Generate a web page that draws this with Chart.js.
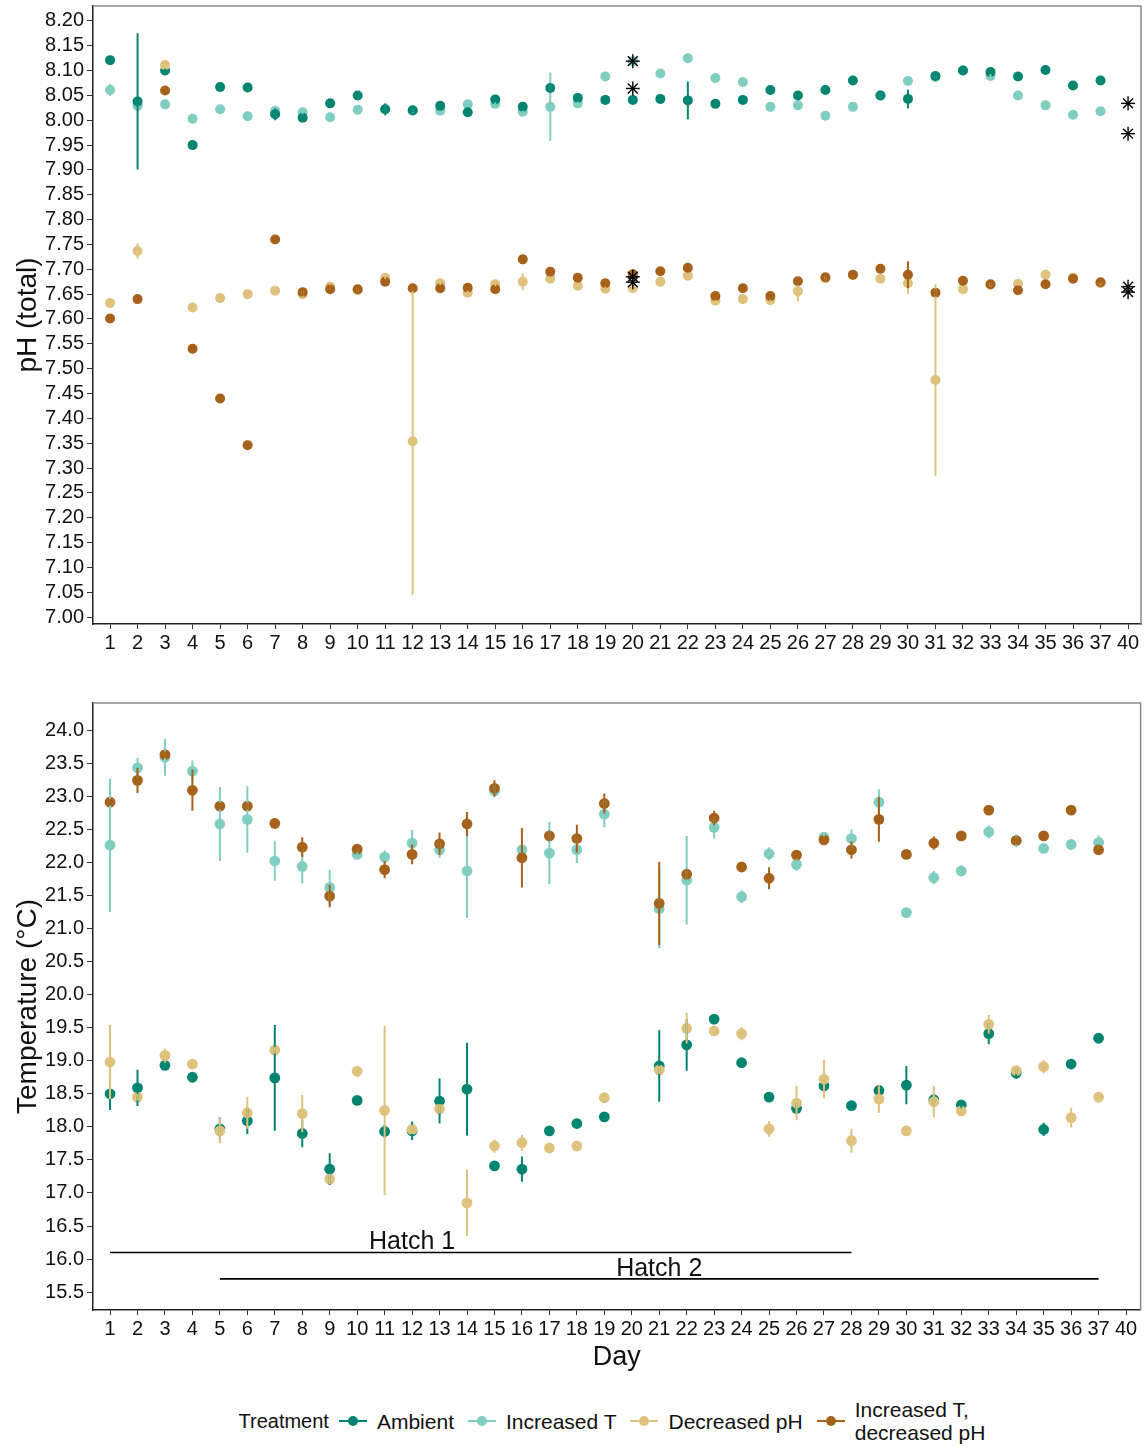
<!DOCTYPE html>
<html><head><meta charset="utf-8">
<script src="https://cdn.jsdelivr.net/npm/chart.js@4.4.1/dist/chart.umd.min.js"></script>
<style>
html,body{margin:0;padding:0;background:#fff;}
body{width:1146px;height:1447px;position:relative;overflow:hidden;font-family:"Liberation Sans",Arial,sans-serif;color:#111;}
#c1{position:absolute;left:0;top:0;}
#c2{position:absolute;left:0;top:690px;}
#legend{position:absolute;left:93px;width:1052px;top:1397px;height:48px;display:flex;justify-content:center;align-items:center;font-size:21px;line-height:23px;}
#legend .ttl{font-size:20px;margin-right:10px;}
#legend .sym{position:relative;width:28px;height:20px;margin-right:10px;}
#legend .sym .ln{position:absolute;left:0;right:0;top:9px;height:2px;}
#legend .sym .dt{position:absolute;left:9px;top:5px;width:10px;height:10px;border-radius:50%;}
#legend .lab{margin-right:14px;white-space:pre;}
</style>
</head><body>
<canvas id="c1" width="1146" height="660"></canvas>
<canvas id="c2" width="1146" height="690"></canvas>
<div id="legend"></div>
<script>
// ---------------- data ----------------
const days = ['1','2','3','4','5','6','7','8','9','10','11','12','13','14','15','16','17','18','19','20','21','22','23','24','25','26','27','28','29','30','31','32','33','34','35','36','37','40'];
const treatments = ['Ambient','Increased T','Decreased pH','Increased T,\ndecreased pH'];
const treatmentColors = ['#018571','#80cdc1','#dfc27d','#a6611a'];

const phTicks = [7.00,7.05,7.10,7.15,7.20,7.25,7.30,7.35,7.40,7.45,7.50,7.55,7.60,7.65,7.70,7.75,7.80,7.85,7.90,7.95,8.00,8.05,8.10,8.15,8.20];
const tempTicks = [15.5,16.0,16.5,17.0,17.5,18.0,18.5,19.0,19.5,20.0,20.5,21.0,21.5,22.0,22.5,23.0,23.5,24.0];

// pH (total): mean and error half-width per day
const phAmb     = [8.121,8.038,8.100,7.950,8.067,8.066,8.012,8.005,8.034,8.050,8.022,8.020,8.029,8.016,8.042,8.027,8.065,8.045,8.041,8.041,8.043,8.040,8.033,8.041,8.061,8.050,8.061,8.080,8.050,8.043,8.089,8.100,8.097,8.088,8.101,8.070,8.080,null];
const phAmbErr  = [0.004,0.137,0.004,0.008,0.004,0.004,0.012,0.008,0.004,0.004,0.012,0.004,0.010,0.008,0.006,0.008,0.010,0.008,0.004,0.004,0.010,0.038,0.004,0.004,0.004,0.004,0.004,0.004,0.004,0.019,0.008,0.004,0.004,0.004,0.004,0.004,0.004,null];
const phIncT    = [8.061,8.029,8.032,8.003,8.022,8.008,8.019,8.016,8.006,8.021,8.022,8.019,8.019,8.032,8.033,8.017,8.027,8.034,8.088,8.119,8.094,8.125,8.085,8.077,8.027,8.030,8.009,8.027,8.050,8.079,8.087,8.100,8.089,8.050,8.030,8.011,8.018,null];
const phIncTErr = [0.012,0.004,0.004,0.010,0.004,0.004,0.008,0.008,0.004,0.004,0.010,0.004,0.004,0.004,0.004,0.004,0.069,0.008,0.004,0.004,0.004,0.004,0.004,0.004,0.004,0.004,0.004,0.004,0.004,0.004,0.004,0.004,0.004,0.004,0.004,0.004,0.004,null];
const phDec     = [7.632,7.737,8.111,7.623,7.642,7.650,7.657,7.650,7.665,7.658,7.683,7.354,7.672,7.653,7.670,7.675,7.681,7.667,7.661,7.662,7.675,7.687,7.637,7.640,7.638,7.656,7.682,7.688,7.681,7.672,7.477,7.660,7.669,7.671,7.689,7.683,7.672,null];
const phDecErr  = [0.004,0.015,0.004,0.004,0.004,0.004,0.004,0.008,0.005,0.004,0.005,0.309,0.004,0.005,0.004,0.017,0.004,0.004,0.004,0.004,0.010,0.004,0.004,0.004,0.004,0.020,0.004,0.004,0.004,0.022,0.193,0.004,0.004,0.004,0.004,0.004,0.004,null];
const phBoth    = [7.601,7.640,8.060,7.540,7.440,7.346,7.760,7.654,7.660,7.660,7.675,7.662,7.662,7.663,7.660,7.720,7.695,7.683,7.672,7.690,7.696,7.703,7.646,7.662,7.646,7.676,7.684,7.689,7.701,7.689,7.653,7.677,7.670,7.658,7.670,7.681,7.674,null];
const phBothErr = [0.004,0.004,0.004,0.004,0.004,0.004,0.004,0.008,0.008,0.006,0.006,0.006,0.005,0.006,0.005,0.004,0.004,0.004,0.006,0.010,0.004,0.004,0.008,0.004,0.008,0.008,0.006,0.006,0.004,0.027,0.008,0.004,0.004,0.004,0.004,0.006,0.004,null];

// single measurements (asterisks)
const starDays = ['20','20','20','20','40','40','40','40'];
const starPh   = [8.119,8.064,7.685,7.674,8.034,7.973,7.665,7.654];

// Temperature (°C)
const tAmb     = [18.50,18.59,18.93,18.75,17.97,18.09,18.74,17.90,17.36,18.40,17.93,17.94,18.39,18.57,17.41,17.36,17.94,18.05,18.15,null,18.92,19.24,19.63,18.97,18.45,18.28,18.62,18.32,18.55,18.63,18.41,18.33,19.41,18.81,17.96,18.95,19.34,null];
const tAmbErr  = [0.245,0.275,0.05,0.07,0.17,0.20,0.80,0.21,0.24,0.05,0.10,0.14,0.34,0.70,0.04,0.19,0.04,0.04,0.05,null,0.54,0.39,0.04,0.04,0.04,0.08,0.06,0.04,0.05,0.29,0.08,0.06,0.16,0.08,0.10,0.05,0.04,null];
const tIncT    = [22.26,23.43,23.59,23.38,22.58,22.65,22.02,21.94,21.62,22.12,22.08,22.29,22.19,21.87,23.08,22.19,22.14,22.19,22.73,null,21.30,21.73,22.53,21.48,22.13,21.97,22.38,22.36,22.91,21.24,21.77,21.87,22.46,22.33,22.21,22.27,22.30,null];
const tIncTErr = [1.01,0.15,0.28,0.16,0.56,0.50,0.30,0.26,0.27,0.07,0.10,0.20,0.12,0.71,0.10,0.10,0.47,0.20,0.20,null,0.60,0.67,0.17,0.10,0.10,0.10,0.05,0.14,0.19,0.07,0.10,0.08,0.10,0.10,0.05,0.08,0.11,null];
const tDec     = [18.98,18.45,19.08,18.95,17.94,18.21,19.16,18.20,17.21,18.84,18.25,17.96,18.27,16.85,17.71,17.76,17.68,17.71,18.44,null,18.86,19.49,19.45,19.41,17.97,18.36,18.72,17.79,18.42,17.94,18.38,18.24,19.55,18.85,18.91,18.14,18.45,null];
const tDecErr  = [0.56,0.05,0.11,0.05,0.19,0.24,0.05,0.28,0.08,0.08,1.28,0.07,0.07,0.50,0.10,0.12,0.06,0.06,0.08,null,0.06,0.23,0.05,0.10,0.12,0.26,0.29,0.18,0.21,0.07,0.24,0.05,0.14,0.05,0.10,0.15,0.08,null];
const tBoth    = [22.91,23.24,23.63,23.09,22.85,22.85,22.59,22.23,21.49,22.20,21.89,22.12,22.28,22.58,23.12,22.07,22.40,22.36,22.89,null,21.38,21.82,22.67,21.93,21.76,22.11,22.34,22.19,22.65,22.12,22.29,22.40,22.79,22.33,22.40,22.79,22.19,null];
const tBothErr = [0.05,0.19,0.05,0.31,0.05,0.05,0.08,0.15,0.17,0.05,0.13,0.15,0.17,0.18,0.12,0.45,0.08,0.21,0.15,null,0.63,0.08,0.11,0.05,0.165,0.06,0.05,0.13,0.34,0.07,0.10,0.05,0.05,0.06,0.05,0.05,0.08,null];

// hatch periods
const hatchNames = ['Hatch 1','Hatch 2'];
const hatchStart = ['1','5'];
const hatchEnd   = ['28','37'];
const hatchTemp  = [16.1,15.7];
const hatchLabelDay = ['12','21'];

// ---------------- helpers ----------------
const FONT = "'Liberation Sans', Arial, sans-serif";
Chart.defaults.font.family = FONT;
Chart.defaults.color = '#111';

function toPoints(vals, errs){
  const out = [];
  vals.forEach((v,i)=>{ if (v !== null) out.push({x:i, y:v, e:errs[i]}); });
  return out;
}
function seriesSets(lists, radius){
  // drawing order: Increased T (bottom), Ambient, Decreased pH, Increased T decreased pH (top)
  const ord = [3,4,2,1];
  return lists.map((l,k)=>({
    label: treatments[k].replace('\n',' '),
    data: toPoints(l[0], l[1]),
    backgroundColor: treatmentColors[k],
    borderWidth: 0,
    pointRadius: radius,
    pointHoverRadius: radius,
    order: ord[k],
    errBars: true
  }));
}

const errBarPlugin = {
  id: 'errbars',
  afterDatasetsDraw(chart){
    const ctx = chart.ctx, xs = chart.scales.x, ys = chart.scales.y, a = chart.chartArea;
    ctx.save();
    ctx.beginPath(); ctx.rect(a.left, a.top, a.right-a.left, a.bottom-a.top); ctx.clip();
    const sets = chart.data.datasets.filter(d=>d.errBars).slice().sort((p,q)=>q.order-p.order);
    sets.forEach(d=>{
      ctx.strokeStyle = d.backgroundColor;
      ctx.lineWidth = 2;
      d.data.forEach(p=>{
        if (p.e == null) return;
        const x = xs.getPixelForValue(p.x);
        ctx.beginPath();
        ctx.moveTo(x, ys.getPixelForValue(p.y - p.e));
        ctx.lineTo(x, ys.getPixelForValue(p.y + p.e));
        ctx.stroke();
      });
    });
    // asterisks drawn on top
    chart.data.datasets.forEach((d,i)=>{
      if (!d.isStar) return;
      const meta = chart.getDatasetMeta(i);
      ctx.strokeStyle = '#000'; ctx.lineWidth = 1.4;
      meta.data.forEach(el=>{
        const r = 7;
        for (let k=0;k<4;k++){
          const ang = k*Math.PI/4;
          ctx.beginPath();
          ctx.moveTo(el.x - r*Math.cos(ang), el.y - r*Math.sin(ang));
          ctx.lineTo(el.x + r*Math.cos(ang), el.y + r*Math.sin(ang));
          ctx.stroke();
        }
      });
    });
    ctx.restore();
  }
};

const framePlugin = {
  id: 'frame',
  afterDraw(chart){
    const ctx = chart.ctx, a = chart.chartArea;
    ctx.save();
    ctx.strokeStyle = '#8a8a8a'; ctx.lineWidth = 1.5;
    ctx.beginPath();
    ctx.moveTo(a.left, a.top); ctx.lineTo(a.right, a.top); ctx.lineTo(a.right, a.bottom);
    ctx.stroke();
    ctx.restore();
  }
};

const hatchTextPlugin = {
  id: 'hatchText',
  afterDatasetsDraw(chart){
    const ctx = chart.ctx, xs = chart.scales.x, ys = chart.scales.y;
    ctx.save();
    ctx.font = '25px ' + FONT;
    ctx.fillStyle = '#111';
    ctx.textAlign = 'center';
    ctx.textBaseline = 'alphabetic';
    hatchNames.forEach((n,k)=>{
      ctx.fillText(n, xs.getPixelForValue(days.indexOf(hatchLabelDay[k])), ys.getPixelForValue(hatchTemp[k]) - 3);
    });
    ctx.restore();
  }
};

function xScale(min, max, withTitle){
  return {
    type: 'linear', min: min, max: max,
    afterBuildTicks: s => { s.ticks = days.map((d,i)=>({value:i})); },
    afterFit: s => { s.height = withTitle ? 70 : 36; s.paddingLeft = 0; s.paddingRight = 0; },
    ticks: { autoSkip:false, maxRotation:0, minRotation:0, padding:2, color:'#111', font:{size:20}, callback: v => days[v] },
    grid: { display:true, drawOnChartArea:false, drawTicks:true, tickLength:5, tickColor:'#333', tickWidth:1 },
    border: { display:true, color:'#222', width:1.5 },
    title: withTitle ? { display:true, text:'Day', font:{size:27}, color:'#111', padding:{top:0,bottom:6} } : { display:false }
  };
}
function yScale(min, max, ticksArr, digits, title){
  return {
    type: 'linear', min: min, max: max,
    afterBuildTicks: s => { s.ticks = ticksArr.map(v=>({value:v})); },
    afterFit: s => { s.width = 93; s.paddingTop = 0; s.paddingBottom = 0; },
    ticks: { autoSkip:false, padding:3, color:'#111', font:{size:20}, callback: v => Number(v).toFixed(digits) },
    grid: { display:true, drawOnChartArea:false, drawTicks:true, tickLength:6, tickColor:'#333', tickWidth:1 },
    border: { display:true, color:'#222', width:1.5 },
    title: { display:true, text:title, font:{size:28}, color:'#111', padding:{top:11,bottom:0} }
  };
}
const commonOpts = {
  responsive:false, animation:false, events:[],
  plugins:{ legend:{display:false}, tooltip:{enabled:false} }
};

// ---------------- top chart: pH ----------------
const topSets = seriesSets([[phAmb,phAmbErr],[phIncT,phIncTErr],[phDec,phDecErr],[phBoth,phBothErr]], 5);
topSets.push({
  label:'single', isStar:true,
  data: starDays.map((d,k)=>({x:days.indexOf(d), y:starPh[k]})),
  pointRadius:0, borderWidth:0, order:0
});
new Chart(document.getElementById('c1'), {
  type:'scatter',
  data:{ datasets: topSets },
  options: Object.assign({}, commonOpts, {
    layout:{ padding:{ left:0, right:3, top:6, bottom:0 } },
    scales:{ x: xScale(-0.62, 37.47, false), y: yScale(6.986, 8.230, phTicks, 2, 'pH (total)') }
  }),
  plugins:[errBarPlugin, framePlugin]
});

// ---------------- bottom chart: temperature ----------------
const botSets = seriesSets([[tAmb,tAmbErr],[tIncT,tIncTErr],[tDec,tDecErr],[tBoth,tBothErr]], 5.4);
hatchNames.forEach((n,k)=>{
  botSets.push({
    label:n, type:'line', showLine:true,
    data:[{x:days.indexOf(hatchStart[k]), y:hatchTemp[k]},{x:days.indexOf(hatchEnd[k]), y:hatchTemp[k]}],
    borderColor:'#000', borderWidth:1.6, pointRadius:0, fill:false, order:5
  });
});
new Chart(document.getElementById('c2'), {
  type:'scatter',
  data:{ datasets: botSets },
  options: Object.assign({}, commonOpts, {
    layout:{ padding:{ left:0, right:1, top:13, bottom:0 } },
    scales:{ x: xScale(-0.62, 37.53, true), y: yScale(15.23, 24.41, tempTicks, 1, 'Temperature (°C)') }
  }),
  plugins:[errBarPlugin, framePlugin, hatchTextPlugin]
});

// ---------------- legend ----------------
const lg = document.getElementById('legend');
let html = '<span class="ttl">Treatment</span>';
treatments.forEach((t,k)=>{
  html += '<span class="sym"><span class="ln" style="background:'+treatmentColors[k]+'"></span><span class="dt" style="background:'+treatmentColors[k]+'"></span></span>';
  html += '<span class="lab">'+t+'</span>';
});
lg.innerHTML = html;
</script>
</body></html>
